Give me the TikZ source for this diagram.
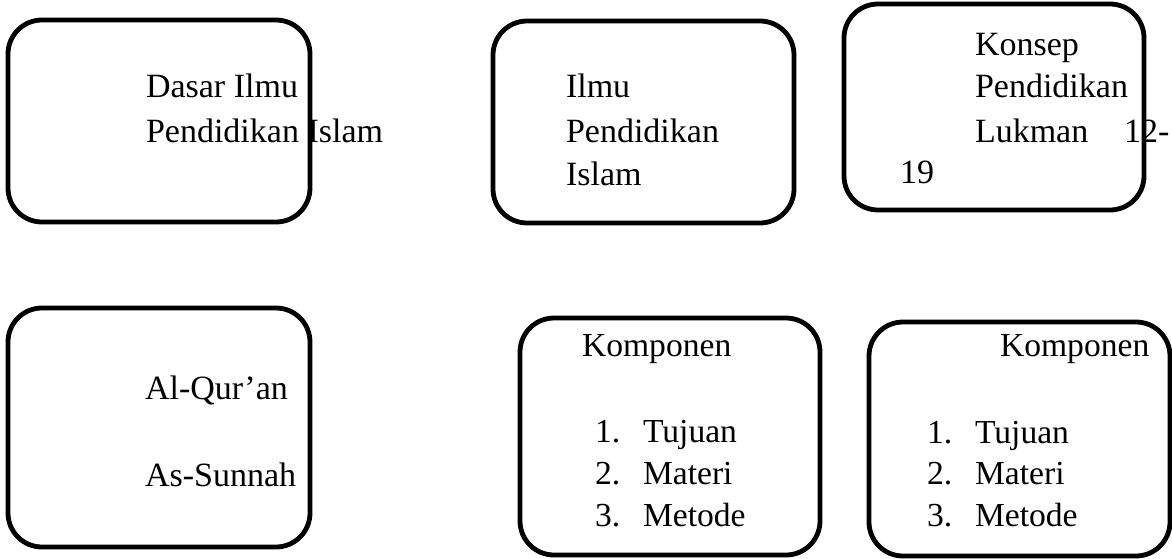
\documentclass[tikz,border=0pt]{standalone}
\usepackage{fontspec}
\setmainfont{Liberation Serif}
\tikzset{
  box/.style={draw=black, line width=4.8pt, rounded corners=34pt, inner sep=0pt, outer sep=0pt},
  txt/.style={anchor=base west, inner sep=0pt, outer sep=0pt, font=\fontsize{34}{40}\selectfont},
  ttxt/.style={anchor=base west, inner sep=0pt, outer sep=0pt, font=\fontsize{33.6}{40}\selectfont}
}
\begin{document}
\begin{tikzpicture}[x=1pt,y=-1pt]
\useasboundingbox (0,0) rectangle (1172,558);
% boxes
\node[box, minimum width=302pt, minimum height=202pt] (b1) at (159,121) {};
\node[box, minimum width=301pt, minimum height=202pt] (b2) at (643.5,122) {};
\node[box, minimum width=300pt, minimum height=206pt] (b3) at (994,107) {};
\node[box, minimum width=302pt, minimum height=239pt] (b4) at (159,427.5) {};
\node[box, minimum width=300pt, minimum height=237pt] (b5) at (670,436.5) {};
\node[box, minimum width=301pt, minimum height=234pt] (b6) at (1019.5,439) {};
% box 1
\node[txt] (t1a) at (146,97) {Dasar Ilmu};
\node[txt] (t1b) at (146,142) {Pendidikan Islam};
% box 2
\node[txt] (t2a) at (566,97) {Ilmu};
\node[txt] (t2b) at (566,142) {Pendidikan};
\node[txt] (t2c) at (566,185) {Islam};
% box 3
\node[txt] (t3a) at (975,55) {Konsep};
\node[txt] (t3b) at (975,97) {Pendidikan};
\node[txt] (t3c) at (975,142) {Lukman};
\node[txt] (t3d) at (1124,142) {12-};
\node[txt] (t3e) at (900,183) {19};
% box 4
\node[txt] (t4a) at (145,399) {Al-Qur’an};
\node[txt] (t4b) at (145,486) {As-Sunnah};
% box 5
\node[ttxt] (t5h) at (582,356) {Komponen};
\node[ttxt] (t5n1) at (595,442) {1.};
\node[ttxt] (t5i1) at (643,442) {Tujuan};
\node[ttxt] (t5n2) at (595,484) {2.};
\node[ttxt] (t5i2) at (643,484) {Materi};
\node[ttxt] (t5n3) at (595,526) {3.};
\node[ttxt] (t5i3) at (643,526) {Metode};
% box 6
\node[ttxt] (t6h) at (1000,356) {Komponen};
\node[ttxt] (t6n1) at (927,443) {1.};
\node[ttxt] (t6i1) at (975,443) {Tujuan};
\node[ttxt] (t6n2) at (927,484) {2.};
\node[ttxt] (t6i2) at (975,484) {Materi};
\node[ttxt] (t6n3) at (927,526) {3.};
\node[ttxt] (t6i3) at (975,526) {Metode};
\end{tikzpicture}
\end{document}
